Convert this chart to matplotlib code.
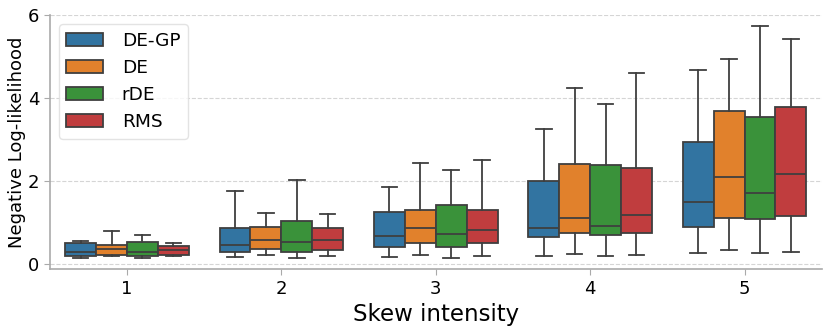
import numpy as np
import matplotlib
matplotlib.use('Agg')
from matplotlib import pyplot as plt
from matplotlib.patches import Patch

skew = [1, 2, 3, 4, 5]
methods = ['DE-GP', 'DE', 'rDE', 'RMS']
colors = ['#3274a1', '#e1812c', '#3a923a', '#c03d3e']

# box stats, one list per method, one entry per skew level
whislo = {
    'DE-GP': [0.14, 0.16, 0.16, 0.20, 0.27],
    'DE':    [0.19, 0.21, 0.21, 0.25, 0.33],
    'rDE':   [0.15, 0.15, 0.15, 0.19, 0.27],
    'RMS':   [0.19, 0.19, 0.19, 0.22, 0.30],
}
q1 = {
    'DE-GP': [0.19, 0.28, 0.41, 0.65, 0.89],
    'DE':    [0.23, 0.36, 0.52, 0.74, 1.10],
    'rDE':   [0.19, 0.29, 0.41, 0.70, 1.08],
    'RMS':   [0.23, 0.35, 0.51, 0.76, 1.15],
}
med = {
    'DE-GP': [0.28, 0.46, 0.67, 0.88, 1.49],
    'DE':    [0.37, 0.59, 0.87, 1.11, 2.09],
    'rDE':   [0.28, 0.54, 0.72, 0.92, 1.72],
    'RMS':   [0.35, 0.59, 0.81, 1.19, 2.18],
}
q3 = {
    'DE-GP': [0.50, 0.88, 1.25, 1.99, 2.93],
    'DE':    [0.45, 0.89, 1.31, 2.40, 3.69],
    'rDE':   [0.53, 1.04, 1.43, 2.39, 3.53],
    'RMS':   [0.44, 0.88, 1.31, 2.32, 3.79],
}
whishi = {
    'DE-GP': [0.56, 1.75, 1.86, 3.25, 4.67],
    'DE':    [0.79, 1.22, 2.43, 4.23, 4.94],
    'rDE':   [0.69, 2.02, 2.27, 3.86, 5.74],
    'RMS':   [0.51, 1.21, 2.50, 4.60, 5.41],
}

fig = plt.figure(figsize=(8.3, 3.31), dpi=100)
ax = fig.add_axes([0.060, 0.187, 0.930, 0.768])

line_c = '#3f3f3f'
width = 0.2
offsets = [-0.3, -0.1, 0.1, 0.3]
for m, c, off in zip(methods, colors, offsets):
    stats = []
    for i in range(len(skew)):
        stats.append(dict(whislo=whislo[m][i], q1=q1[m][i], med=med[m][i],
                          q3=q3[m][i], whishi=whishi[m][i], fliers=[]))
    pos = np.arange(len(skew)) + off
    ax.bxp(stats, positions=pos, widths=width, patch_artist=True,
           showfliers=False, manage_ticks=False,
           boxprops=dict(facecolor=c, edgecolor=line_c, linewidth=1.3),
           medianprops=dict(color=line_c, linewidth=1.3),
           whiskerprops=dict(color=line_c, linewidth=1.3),
           capprops=dict(color=line_c, linewidth=1.3), zorder=3)

ax.set_xlim(-0.5, 4.5)
ax.set_ylim(-0.12, 6.0)
ax.set_xticks(np.arange(len(skew)))
ax.set_xticklabels([str(s) for s in skew])
ax.set_yticks([0, 2, 4, 6])
ax.tick_params(labelsize=13, color='#aaaaaa', length=4)
ax.yaxis.grid(True, linestyle='--', color='#d5d5d5', linewidth=0.8)
ax.set_axisbelow(True)
for s in ['top', 'right']:
    ax.spines[s].set_visible(False)
for s in ['left', 'bottom']:
    ax.spines[s].set_color('#aaaaaa')
    ax.spines[s].set_linewidth(1.2)

ax.set_xlabel('Skew intensity', fontsize=16.5)
ax.set_ylabel('Negative Log-likelihood', fontsize=13, labelpad=1)

handles = [Patch(facecolor=c, edgecolor=line_c, linewidth=1.3) for c in colors]
ax.legend(handles, methods, loc='upper left', fontsize=13.3, framealpha=0.8,
          edgecolor='#dddddd', handletextpad=1.0)

fig.savefig('out.png', dpi=100)
